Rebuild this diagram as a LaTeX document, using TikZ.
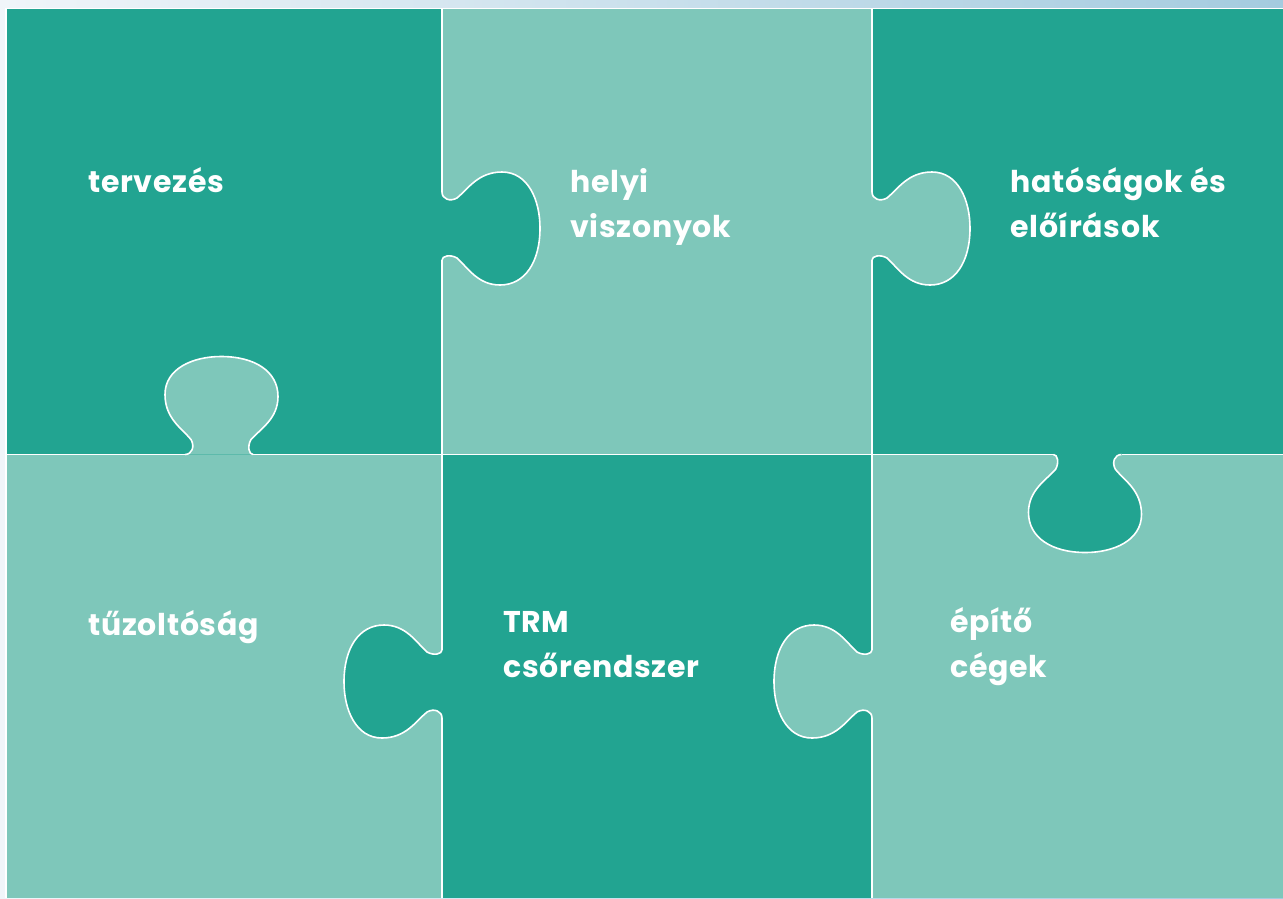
\documentclass[tikz,border=0pt]{standalone}
\usepackage{fontspec}
\setmainfont{Poppins}
\newfontfamily\piecefont{Poppins}[LetterSpace=2.5]
\usepackage{tikz}
\definecolor{darkpiece}{HTML}{22A491}
\definecolor{lightpiece}{HTML}{7EC7BA}
\definecolor{skyleft}{HTML}{F0F5F9}
\definecolor{skyright}{HTML}{A4CBDF}
\newcommand{\tabpath}{(0,-34) .. controls (0,-27) and (8,-24) .. (15,-28)
  .. controls (26,-37) and (36,-54) .. (60,-54)
  .. controls (86,-54) and (98,-26) .. (98,2)
  .. controls (98,36) and (83,59) .. (58,59)
  .. controls (36,59) and (26,42) .. (15,32)
  .. controls (8,28) and (0,30) .. (0,34)}
\tikzset{seam/.style={white, line width=1.6pt},
         darktab/.style={fill=darkpiece, draw=white, line width=1.6pt},
         lighttab/.style={fill=lightpiece, draw=white, line width=1.6pt},
         piecetext/.style={white, font=\piecefont\fontsize{30}{45}\selectfont\bfseries,
                           anchor=base west, align=left, inner sep=0pt}}

\begin{document}
\begin{tikzpicture}[x=1pt, y=-1pt]

\useasboundingbox (0,0) rectangle (1283,898);
\shade[left color=skyleft, right color=skyright] (0,0) rectangle (1283,898);

\fill[darkpiece]  (6,8.5)     rectangle (442,454.5);
\fill[lightpiece] (442,8.5)   rectangle (872,454.5);
\fill[darkpiece]  (872,8.5)   rectangle (1283,454.5);
\fill[lightpiece] (6,454.5)   rectangle (442,898);
\fill[darkpiece]  (442,454.5) rectangle (872,898);
\fill[lightpiece] (872,454.5) rectangle (1283,898);

\filldraw[darktab, shift={(442,226)}] \tabpath;
\filldraw[lighttab, shift={(872,226)}] \tabpath;
\filldraw[lighttab, shift={(219,454.5)}, rotate=90] \tabpath;
\filldraw[darktab, shift={(1087.5,454.5)}, rotate=-90] \tabpath;
\filldraw[darktab, shift={(442,684)}, rotate=180] \tabpath;
\filldraw[lighttab, shift={(872,684)}, rotate=180] \tabpath;

\draw[seam] (6,898) -- (6,8.5) -- (1283,8.5);
\draw[seam] (442,8.5) -- (442,192) (442,260) -- (442,650) (442,718) -- (442,898);
\draw[seam] (872,8.5) -- (872,192) (872,260) -- (872,650) (872,718) -- (872,898);
\draw[seam] (6,454.5) -- (185,454.5) (253,454.5) -- (1053.5,454.5) (1121.5,454.5) -- (1283,454.5);

\node[piecetext] (tervezes) at (88,192) {tervezés};
\node[piecetext] (helyi) at (570,237) {helyi\\viszonyok};
\node[piecetext] (hatosagok) at (1010,237) {hatóságok és\\előírások};
\node[piecetext] (tuzoltosag) at (88,635) {tűzoltóság};
\node[piecetext] (trm) at (503,677) {TRM\\csőrendszer};
\node[piecetext] (epito) at (950,677) {építő\\cégek};

\end{tikzpicture}
\end{document}
